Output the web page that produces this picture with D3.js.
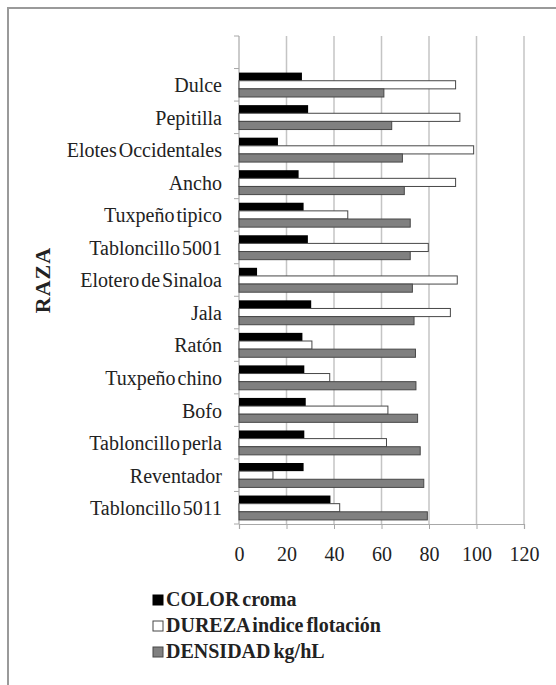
<!DOCTYPE html>
<html>
<head>
<meta charset="utf-8">
<script src="https://cdn.jsdelivr.net/npm/d3@7"></script>
<style>
  body { margin: 0; background: #fff; }
  svg { display: block; }
  svg text { font-family: 'Liberation Serif', 'DejaVu Serif', 'Times New Roman', Times, serif; }
</style>
</head>
<body>
<div id="chart"></div>
<script>
// Categories, top to bottom (first slot of the axis is empty in the original)
const categories = ['Dulce', 'Pepitilla', 'Elotes Occidentales', 'Ancho', 'Tuxpeño tipico',
    'Tabloncillo 5001', 'Elotero de Sinaloa', 'Jala', 'Ratón', 'Tuxpeño chino', 'Bofo',
    'Tabloncillo perla', 'Reventador', 'Tabloncillo 5011'];

// Series values
const colorCroma = [26.5, 29.1, 16.4, 25.1, 27.2, 29.0, 7.6, 30.4, 26.7, 27.5, 28.1, 27.5, 27.2, 38.5];
const durezaFlotacion = [91.2, 93.0, 98.8, 91.2, 45.8, 79.7, 91.9, 89.0, 30.7, 38.2, 62.7, 62.1, 14.3, 42.4];
const densidad = [61.0, 64.3, 68.8, 69.6, 72.1, 72.1, 73.0, 73.7, 74.3, 74.5, 75.2, 76.3, 77.8, 79.3];

const seriesNames = ['COLOR croma', 'DUREZA indice flotación', 'DENSIDAD kg/hL'];
const xTicks = [0, 20, 40, 60, 80, 100, 120];

const serifFont = "'Liberation Serif', 'DejaVu Serif', 'Times New Roman', Times, serif";

// Look of each series
const seriesStyle = {
    'COLOR croma': { fill: '#000', stroke: 'none' },
    'DUREZA indice flotación': { fill: '#fff', stroke: '#474747' },
    'DENSIDAD kg/hL': { fill: '#808080', stroke: '#474747' }
};

const rows = categories.map((c, i) => ({
    raza: c,
    values: [colorCroma[i], durezaFlotacion[i], densidad[i]]
}));

const svgWidth = 556, svgHeight = 685;
const margin = { top: 36, left: 239, right: 32, bottom: 161 };

const svg = d3.select('#chart')
    .append('svg')
    .attr('width', svgWidth)
    .attr('height', svgHeight)
    .attr('font-family', serifFont);

// Outer frame (only top and left edges show in the crop)
svg.append('path')
    .attr('d', `M8,${svgHeight} V8 H${svgWidth}`)
    .attr('fill', 'none')
    .attr('stroke', '#9a9a9a')
    .attr('stroke-width', 2);

// Scales
const x = d3.scaleLinear()
    .domain([0, 120])
    .range([margin.left, svgWidth - margin.right]);

const y = d3.scaleBand()
    .domain([''].concat(categories))
    .range([margin.top, svgHeight - margin.bottom])
    .padding(0);

const ySeries = d3.scaleBand()
    .domain(seriesNames)
    .range([0, y.bandwidth()])
    .paddingInner(0)
    .paddingOuter(0.5);

const plotTop = y.range()[0], plotBottom = y.range()[1];

// Vertical gridlines
svg.append('g')
    .selectAll('line')
    .data(xTicks.filter(t => t > 0))
    .enter()
    .append('line')
    .attr('x1', d => x(d))
    .attr('x2', d => x(d))
    .attr('y1', plotTop)
    .attr('y2', plotBottom)
    .attr('stroke', '#c4c4c4')
    .attr('stroke-width', 1.5);

// Bottom axis: line, ticks, labels
const xAxis = svg.append('g')
    .attr('transform', `translate(0,${plotBottom})`)
    .call(d3.axisBottom(x).tickValues(xTicks).tickSize(5).tickPadding(18));
xAxis.attr('font-family', serifFont);
xAxis.select('.domain').attr('stroke', '#a8a8a8').attr('stroke-width', 1.2);
xAxis.selectAll('.tick line').attr('stroke', '#a8a8a8');
xAxis.selectAll('.tick text')
    .attr('fill', '#222')
    .attr('font-family', serifFont)
    .style('font-size', '20px');

// Left axis line with tick marks between categories
const bounds = y.domain().map(d => y(d)).concat([plotBottom]);
svg.append('line')
    .attr('x1', x(0)).attr('x2', x(0))
    .attr('y1', plotTop).attr('y2', plotBottom)
    .attr('stroke', '#a8a8a8')
    .attr('stroke-width', 1.2);
svg.append('g')
    .selectAll('line')
    .data(bounds)
    .enter()
    .append('line')
    .attr('x1', x(0) - 5)
    .attr('x2', x(0))
    .attr('y1', d => d)
    .attr('y2', d => d)
    .attr('stroke', '#a8a8a8');

// Category labels
svg.append('g')
    .selectAll('text')
    .data(categories)
    .enter()
    .append('text')
    .attr('x', x(0) - 17)
    .attr('y', d => y(d) + y.bandwidth() / 2)
    .attr('dy', '0.37em')
    .attr('text-anchor', 'end')
    .attr('font-family', serifFont)
    .style('font-size', '20px')
    .style('word-spacing', '-3px')
    .attr('fill', '#222')
    .text(d => d);

// Bars
const groups = svg.append('g')
    .selectAll('g')
    .data(rows)
    .enter()
    .append('g')
    .attr('transform', d => `translate(0,${y(d.raza)})`);

groups.selectAll('rect')
    .data(d => d.values.map((v, i) => ({ name: seriesNames[i], value: v })))
    .enter()
    .append('rect')
    .attr('x', x(0))
    .attr('y', d => ySeries(d.name))
    .attr('width', d => x(d.value) - x(0))
    .attr('height', ySeries.bandwidth())
    .attr('fill', d => seriesStyle[d.name].fill)
    .attr('stroke', d => seriesStyle[d.name].stroke)
    .attr('stroke-width', 1);

// Axis title
svg.append('text')
    .attr('transform', `translate(50,${(plotTop + plotBottom) / 2}) rotate(-90)`)
    .attr('text-anchor', 'middle')
    .attr('font-family', serifFont)
    .style('font-size', '22px')
    .style('font-weight', 'bold')
    .style('letter-spacing', '1px')
    .attr('fill', '#222')
    .text('RAZA');

// Legend
const legend = svg.append('g')
    .attr('transform', 'translate(153,606)');
const legendItem = legend.selectAll('g')
    .data(seriesNames)
    .enter()
    .append('g')
    .attr('transform', (d, i) => `translate(0,${i * 26})`);
legendItem.append('rect')
    .attr('x', 0)
    .attr('y', -11)
    .attr('width', 10)
    .attr('height', 10)
    .attr('fill', d => seriesStyle[d].fill)
    .attr('stroke', d => seriesStyle[d].stroke === 'none' ? '#000' : seriesStyle[d].stroke);
legendItem.append('text')
    .attr('x', 13)
    .attr('y', 0)
    .attr('font-family', serifFont)
    .style('font-size', '20px')
    .style('font-weight', 'bold')
    .style('word-spacing', '-2px')
    .attr('fill', '#222')
    .text(d => d);
</script>
</body>
</html>
